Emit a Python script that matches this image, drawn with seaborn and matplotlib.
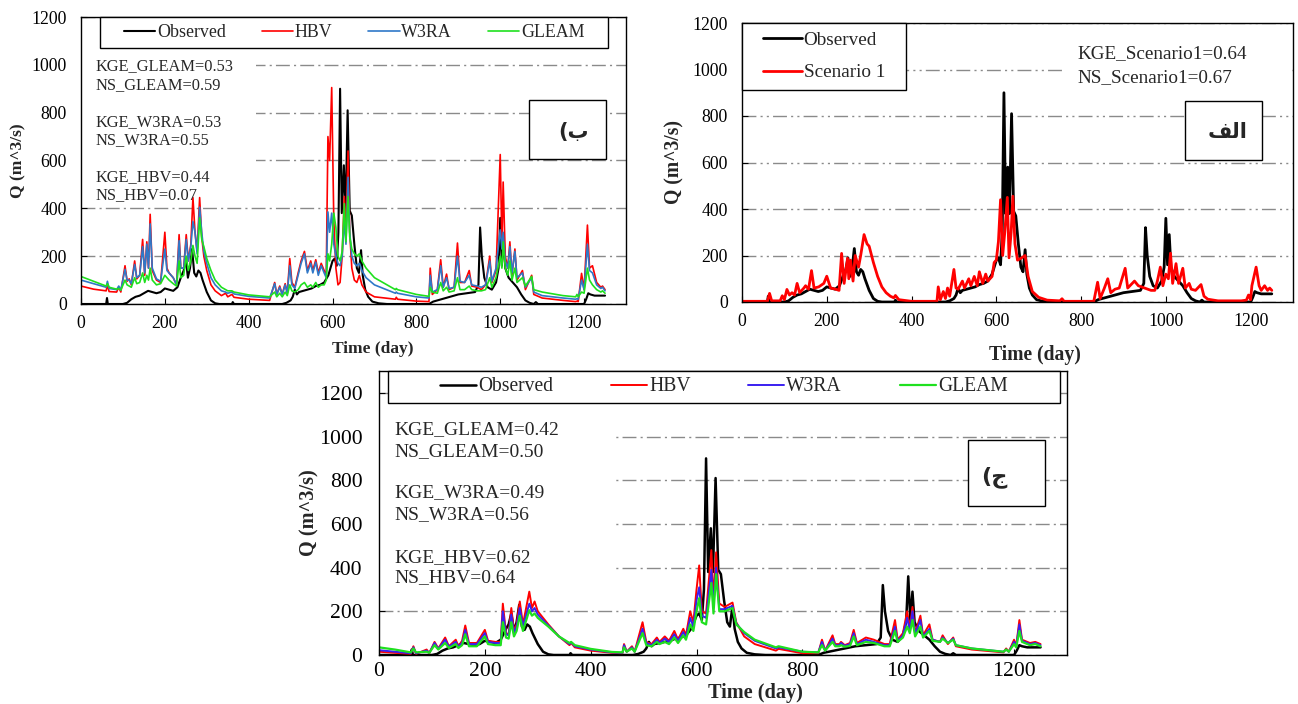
import matplotlib
matplotlib.use("Agg")
import matplotlib.pyplot as plt
from matplotlib.patches import Rectangle
import seaborn as sns

# ---------------- observed discharge (shared by all panels) ----------------
obs_day = [0, 60, 62, 64, 100, 110, 120, 130, 140, 150, 160, 170, 180, 190, 200,
           210, 220, 230, 240, 245, 250, 255, 260, 265, 270, 275, 280, 285, 290, 300,
           310, 320, 330, 360, 362, 365, 400, 480, 490, 500, 505, 510, 515, 520, 530,
           540, 550, 560, 570, 580, 590, 600, 605, 610, 614, 618, 622, 627, 631, 636,
           641, 646, 652, 658, 663, 668, 672, 678, 685, 695, 710, 730, 830, 840, 860,
           880, 900, 920, 940, 948, 952, 956, 962, 970, 980, 990, 996, 1000, 1004, 1008,
           1012, 1020, 1030, 1040, 1050, 1060, 1070, 1080, 1085, 1090, 1200, 1205, 1210, 1215, 1225,
           1250]
obs_q = [0, 0, 25, 0, 0, 5, 20, 30, 35, 45, 55, 50, 45, 50, 65,
         60, 55, 70, 120, 140, 190, 110, 150, 230, 130, 115, 140, 130, 100, 50,
         15, 3, 0, 0, 8, 0, 0, 0, 5, 15, 30, 60, 40, 50, 55,
         60, 65, 75, 80, 90, 120, 180, 190, 160, 300, 900, 380, 580, 380, 810,
         390, 370, 250, 150, 130, 225, 120, 60, 30, 10, 3, 0, 0, 10, 20,
         30, 40, 45, 50, 80, 320, 200, 110, 70, 60, 90, 150, 360, 160, 290,
         150, 110, 90, 70, 40, 15, 5, 0, 8, 0, 0, 20, 45, 40, 35,
         35]

# ---------------- panel (alef): Scenario 1 ----------------
s1_day = [0, 60, 65, 70, 90, 95, 100, 106, 112, 118, 124, 130, 136, 146, 150,
          157, 164, 170, 181, 193, 200, 209, 221, 229, 235, 241, 249, 252, 256, 262,
          267, 275, 280, 288, 295, 300, 310, 320, 330, 340, 350, 358, 362, 370, 400,
          460, 463, 468, 475, 480, 485, 490, 500, 505, 510, 520, 525, 535, 540, 548,
          555, 560, 568, 575, 580, 590, 595, 600, 605, 610, 615, 620, 626, 630, 635,
          639, 644, 650, 660, 668, 675, 685, 700, 720, 750, 755, 760, 830, 839, 845,
          855, 863, 870, 880, 890, 904, 910, 926, 935, 950, 965, 974, 980, 987, 993,
          1000, 1006, 1011, 1016, 1024, 1030, 1040, 1046, 1055, 1060, 1070, 1083, 1090, 1099, 1123,
          1178, 1190, 1195, 1200, 1203, 1213, 1220, 1225, 1233, 1240, 1245, 1250]
s1_q = [3, 3, 37, 5, 5, 27, 10, 54, 30, 40, 30, 80, 40, 60, 70,
        55, 135, 60, 65, 80, 111, 60, 55, 50, 209, 80, 188, 100, 180, 90,
        200, 150, 200, 290, 250, 240, 170, 110, 65, 40, 25, 18, 28, 10, 3,
        3, 65, 10, 45, 15, 60, 25, 140, 60, 55, 90, 60, 100, 70, 110,
        70, 130, 80, 120, 90, 110, 170, 180, 260, 440, 200, 300, 450, 190, 300,
        455, 250, 180, 190, 200, 110, 45, 20, 8, 5, 14, 3, 3, 85, 15,
        60, 100, 40, 55, 60, 145, 60, 90, 70, 60, 50, 50, 90, 150, 70,
        120, 100, 210, 80, 165, 80, 145, 60, 80, 55, 50, 75, 25, 12, 5,
        5, 8, 30, 10, 70, 150, 70, 50, 70, 50, 60, 50]

# ---------------- panel (be): HBV / W3RA / GLEAM ----------------
b_day = [0, 30, 60, 63, 67, 85, 90, 95, 105, 110, 115, 120, 128, 133, 140,
         147, 152, 157, 161, 165, 170, 180, 190, 200, 205, 210, 220, 228, 234, 238,
         245, 251, 256, 262, 267, 272, 277, 283, 288, 293, 300, 310, 320, 335, 345,
         350, 360, 365, 400, 450, 462, 467, 474, 480, 487, 492, 498, 503, 510, 518,
         525, 533, 540, 548, 553, 560, 566, 573, 580, 585, 589, 593, 598, 603, 608,
         613, 618, 623, 628, 632, 637, 641, 646, 652, 658, 664, 670, 680, 700, 750,
         752, 755, 800, 830, 833, 838, 850, 858, 864, 872, 878, 890, 898, 904, 915,
         926, 932, 945, 955, 965, 975, 980, 990, 1000, 1004, 1007, 1012, 1018, 1023, 1028,
         1035, 1040, 1053, 1060, 1075, 1080, 1100, 1150, 1180, 1183, 1186, 1194, 1200, 1208, 1213,
         1220, 1230, 1240, 1244, 1250]
b_hbv = [75, 62, 55, 80, 52, 50, 70, 50, 160, 95, 105, 80, 180, 105, 120,
         270, 120, 260, 150, 375, 140, 100, 90, 300, 150, 130, 110, 80, 290, 150,
         150, 290, 180, 250, 445, 300, 220, 445, 280, 200, 140, 80, 55, 35, 45,
         30, 40, 28, 20, 15, 90, 40, 75, 40, 85, 45, 190, 90, 70, 130,
         180, 220, 140, 180, 140, 185, 130, 170, 140, 120, 700, 600, 905, 350, 150,
         80, 90, 200, 450, 300, 640, 300, 150, 100, 90, 120, 80, 50, 30, 20,
         28, 20, 12, 10, 150, 40, 60, 185, 70, 125, 60, 70, 255, 90, 90,
         140, 75, 70, 60, 80, 200, 90, 140, 625, 250, 510, 200, 150, 260, 120,
         230, 100, 140, 60, 120, 40, 25, 15, 10, 12, 10, 128, 60, 330, 150,
         160, 90, 70, 75, 60]
b_w3ra = [100, 85, 70, 95, 65, 60, 75, 58, 145, 100, 100, 85, 165, 110, 120,
          240, 130, 250, 150, 335, 150, 105, 95, 230, 140, 130, 110, 80, 265, 150,
          150, 270, 180, 240, 345, 300, 210, 405, 300, 220, 170, 110, 80, 55, 50,
          45, 50, 42, 32, 25, 85, 40, 70, 40, 80, 45, 160, 80, 65, 120,
          170, 210, 130, 170, 130, 175, 120, 160, 130, 110, 385, 300, 380, 250, 200,
          170, 160, 200, 350, 250, 530, 300, 200, 170, 160, 170, 140, 110, 80, 45,
          50, 45, 30, 25, 120, 50, 60, 160, 70, 110, 65, 70, 200, 95, 90,
          120, 80, 75, 70, 80, 180, 95, 150, 310, 230, 300, 180, 150, 240, 130,
          220, 110, 130, 70, 110, 50, 35, 25, 20, 22, 20, 100, 60, 250, 140,
          130, 80, 65, 70, 55]
b_gleam = [115, 95, 75, 85, 70, 62, 65, 58, 100, 80, 75, 70, 110, 85, 90,
           130, 90, 120, 100, 150, 100, 80, 85, 120, 110, 100, 85, 75, 180, 110,
           120, 200, 140, 180, 245, 200, 170, 360, 270, 240, 190, 140, 100, 70, 60,
           55, 55, 50, 38, 30, 50, 30, 45, 30, 50, 35, 80, 55, 50, 60,
           80, 90, 70, 80, 70, 90, 70, 80, 80, 100, 210, 180, 250, 380, 320,
           200, 180, 220, 420, 260, 450, 280, 230, 210, 200, 210, 180, 150, 110, 60,
           65, 60, 40, 32, 70, 50, 45, 90, 55, 70, 50, 55, 110, 60, 60,
           75, 60, 55, 55, 60, 110, 70, 110, 200, 150, 260, 150, 120, 180, 100,
           150, 90, 110, 75, 115, 60, 50, 35, 30, 40, 30, 50, 45, 150, 100,
           80, 60, 50, 55, 45]

# ---------------- panel (jim): HBV / W3RA / GLEAM ----------------
c_day = [0, 30, 60, 65, 70, 90, 95, 105, 112, 125, 132, 145, 150, 157, 163,
         170, 185, 200, 206, 220, 230, 234, 240, 245, 250, 255, 260, 266, 272, 284,
         289, 294, 300, 320, 340, 360, 363, 370, 400, 440, 460, 463, 468, 478, 483,
         498, 505, 515, 525, 530, 540, 548, 558, 565, 575, 580, 588, 594, 600, 605,
         610, 618, 628, 632, 637, 643, 653, 668, 675, 690, 710, 750, 755, 800, 830,
         837, 843, 857, 862, 870, 873, 880, 890, 897, 903, 920, 935, 955, 965, 975,
         980, 990, 998, 1003, 1008, 1013, 1023, 1028, 1040, 1046, 1060, 1065, 1075, 1085, 1090,
         1120, 1180, 1185, 1190, 1200, 1204, 1210, 1215, 1230, 1240, 1250]
c_hbv = [15, 10, 5, 40, 5, 25, 8, 60, 30, 80, 40, 70, 40, 65, 135,
         55, 55, 115, 65, 60, 60, 235, 100, 95, 215, 110, 140, 245, 140, 290,
         215, 245, 200, 140, 85, 45, 55, 35, 20, 10, 8, 50, 15, 40, 15,
         150, 60, 50, 80, 60, 85, 65, 110, 70, 120, 90, 200, 150, 300, 410,
         200, 190, 480, 250, 470, 236, 220, 240, 150, 85, 50, 20, 28, 8, 8,
         70, 20, 90, 50, 50, 60, 45, 55, 115, 55, 80, 70, 50, 50, 160,
         70, 100, 200, 120, 220, 100, 180, 90, 140, 70, 60, 90, 50, 80, 40,
         25, 12, 30, 15, 70, 40, 160, 70, 55, 60, 50]
c_w3ra = [22, 15, 8, 35, 8, 20, 10, 55, 28, 70, 38, 60, 38, 55, 115,
          50, 50, 100, 60, 55, 55, 200, 95, 90, 185, 100, 130, 215, 130, 235,
          200, 215, 185, 135, 85, 50, 58, 40, 25, 12, 10, 45, 15, 35, 15,
          120, 55, 45, 70, 55, 75, 60, 95, 65, 105, 80, 170, 130, 250, 310,
          180, 170, 390, 220, 400, 210, 210, 225, 145, 100, 65, 30, 35, 15, 12,
          60, 20, 75, 45, 45, 55, 42, 50, 100, 50, 70, 60, 45, 45, 130,
          65, 90, 170, 110, 200, 95, 160, 85, 120, 70, 60, 80, 55, 75, 45,
          30, 15, 25, 15, 60, 40, 140, 65, 50, 55, 45]
c_gleam = [35, 25, 12, 30, 12, 15, 10, 45, 25, 55, 32, 50, 32, 45, 95,
           40, 40, 85, 50, 45, 45, 150, 80, 75, 150, 85, 110, 180, 110, 205,
           180, 190, 170, 130, 85, 55, 60, 45, 28, 14, 12, 35, 15, 30, 15,
           100, 45, 40, 60, 50, 60, 50, 80, 55, 90, 70, 140, 110, 200, 260,
           150, 140, 330, 190, 370, 200, 200, 215, 140, 105, 70, 35, 40, 15, 12,
           45, 20, 60, 40, 40, 45, 38, 42, 85, 45, 60, 55, 40, 40, 110,
           60, 80, 130, 100, 160, 85, 130, 80, 110, 65, 60, 75, 55, 70, 45,
           30, 15, 25, 15, 50, 35, 110, 60, 45, 50, 40]

x_ticks = [0, 200, 400, 600, 800, 1000, 1200]
y_ticks = [0, 200, 400, 600, 800, 1000, 1200]

# ---------------- styling ----------------
sns.set_style("white")
plt.rcParams["font.family"] = ["Liberation Serif", "DejaVu Sans"]
plt.rcParams["axes.edgecolor"] = "black"
plt.rcParams["axes.linewidth"] = 1.0

W, H = 1298, 704
fig = plt.figure(figsize=(W / 100, H / 100), dpi=100)


def add_axes_px(left, top, right, bottom):
    return fig.add_axes([left / W, (H - bottom) / H, (right - left) / W, (bottom - top) / H])


def style_axes(ax, ymax, tick_fs, lab_fs, grid_dash, ylab_x, xlab_xy, ypad=10, xpad=7):
    ax.set_xlim(0, 1300)
    ax.set_ylim(0, ymax)
    ax.set_xticks(x_ticks)
    ax.set_yticks(y_ticks)
    ax.tick_params(axis="both", direction="in", length=4, width=0.8, labelsize=tick_fs,
                   bottom=True, left=True, colors="black")
    ax.tick_params(axis="y", pad=ypad)
    ax.tick_params(axis="x", pad=xpad)
    for s in ax.spines.values():
        s.set_visible(True)
        s.set_color("black")
        s.set_linewidth(1.0)
    ax.set_axisbelow(True)
    ax.yaxis.grid(True, color="#8a8a8a", linewidth=1.0, linestyle=(0, grid_dash))
    ax.xaxis.grid(False)
    ax.set_ylabel("Q (m^3/s)", fontsize=lab_fs, fontweight="bold")
    ax.set_xlabel("Time (day)", fontsize=lab_fs, fontweight="bold")
    ax.yaxis.set_label_coords(ylab_x, 0.5)
    ax.xaxis.set_label_coords(*xlab_xy)


def white_cover(ax, x0, y0, w, h):
    ax.add_patch(Rectangle((x0, y0), w, h, transform=ax.transAxes, facecolor="white",
                           edgecolor="none", zorder=1))


def framed_box(ax, x0, y0, w, h):
    ax.add_patch(Rectangle((x0, y0), w, h, transform=ax.transAxes, facecolor="white",
                           edgecolor="black", linewidth=1.0, zorder=4, clip_on=False))


def framed_legend(ax, center, fs, ncol, handlelength, colspacing, labelspacing=0.5):
    leg = ax.legend(loc="center", bbox_to_anchor=center, bbox_transform=ax.transAxes,
                    ncol=ncol, frameon=False, fontsize=fs, handlelength=handlelength,
                    handletextpad=0.1, columnspacing=colspacing, labelspacing=labelspacing,
                    borderpad=0.0, borderaxespad=0.0)
    leg.set_zorder(5)
    return leg


arabic_font = dict(family=["DejaVu Sans"], fontweight="bold")

# ================= panel (be): top left =================
ax_b = add_axes_px(81, 17, 626, 304)
sns.lineplot(x=obs_day, y=obs_q, ax=ax_b, color="black", linewidth=1.5, label="Observed",
             estimator=None, sort=False)
sns.lineplot(x=b_day, y=b_hbv, ax=ax_b, color="#ff0000", linewidth=1.2, label="HBV",
             estimator=None, sort=False)
sns.lineplot(x=b_day, y=b_w3ra, ax=ax_b, color="#2f78c8", linewidth=1.2, label="W3RA",
             estimator=None, sort=False)
sns.lineplot(x=b_day, y=b_gleam, ax=ax_b, color="#1fe01f", linewidth=1.2, label="GLEAM",
             estimator=None, sort=False)
style_axes(ax_b, 1200, 12.8, 12.5, (10, 3, 1.5, 3), -0.10, (0.536, -0.128), xpad=8)
framed_box(ax_b, 0.0349, 0.892, 0.932, 0.108)
framed_legend(ax_b, (0.501, 0.946), 12.9, 4, 1.75, 2.0)
white_cover(ax_b, 0.0, 0.352, 0.321, 0.533)
b_stats = ["KGE_GLEAM=0.53", "NS_GLEAM=0.59", "KGE_W3RA=0.53", "NS_W3RA=0.55",
           "KGE_HBV=0.44", "NS_HBV=0.07"]
for txt, yy in zip(b_stats, [0.829, 0.763, 0.634, 0.571, 0.443, 0.380]):
    ax_b.text(0.0275, yy, txt, transform=ax_b.transAxes, fontsize=11.8, va="center",
              ha="left", zorder=3)
framed_box(ax_b, 0.822, 0.505, 0.141, 0.206)
ax_b.text(0.903, 0.599, "(\u0628", transform=ax_b.transAxes, fontsize=15, ha="center",
          va="center", zorder=6, **arabic_font)

# ================= panel (alef): top right =================
ax_a = add_axes_px(742, 23, 1293, 302)
sns.lineplot(x=obs_day, y=obs_q, ax=ax_a, color="black", linewidth=2.0, label="Observed",
             estimator=None, sort=False)
sns.lineplot(x=s1_day, y=s1_q, ax=ax_a, color="#ff0000", linewidth=2.0, label="Scenario 1",
             estimator=None, sort=False)
style_axes(ax_a, 1200, 12.8, 14.1, (10, 3, 1.5, 3, 1.5, 3), -0.105, (0.532, -0.155), xpad=8)
framed_box(ax_a, 0.0, 0.760, 0.298, 0.240)
framed_legend(ax_a, (0.149, 0.881), 13.8, 1, 2.0, 1.0, labelspacing=0.8)
white_cover(ax_a, 0.583, 0.767, 0.412, 0.19)
ax_a.text(0.608, 0.892, "KGE_Scenario1=0.64", transform=ax_a.transAxes, fontsize=13.75,
          va="center", ha="left", zorder=3)
ax_a.text(0.608, 0.806, "NS_Scenario1=0.67", transform=ax_a.transAxes, fontsize=13.75,
          va="center", ha="left", zorder=3)
framed_box(ax_a, 0.804, 0.509, 0.140, 0.211)
ax_a.text(0.882, 0.609, "\ufed2\ufedf\ufe8d", transform=ax_a.transAxes, fontsize=15,
          ha="center", va="center", zorder=6, **arabic_font)

# ================= panel (jim): bottom =================
ax_c = add_axes_px(379, 371, 1067, 655)
sns.lineplot(x=obs_day, y=obs_q, ax=ax_c, color="black", linewidth=1.8, label="Observed",
             estimator=None, sort=False)
sns.lineplot(x=c_day, y=c_hbv, ax=ax_c, color="#ff0000", linewidth=1.4, label="HBV",
             estimator=None, sort=False)
sns.lineplot(x=c_day, y=c_w3ra, ax=ax_c, color="#3a1ff0", linewidth=1.4, label="W3RA",
             estimator=None, sort=False)
sns.lineplot(x=c_day, y=c_gleam, ax=ax_c, color="#1fe01f", linewidth=1.6, label="GLEAM",
             estimator=None, sort=False)
style_axes(ax_c, 1300, 15.6, 14.6, (10, 3, 1.5, 3), -0.087, (0.547, -0.100), ypad=12, xpad=5)
framed_box(ax_c, 0.0131, 0.887, 0.977, 0.113)
framed_legend(ax_c, (0.501, 0.944), 14.1, 4, 1.85, 2.95)
white_cover(ax_c, 0.0, 0.204, 0.343, 0.676)
c_stats = ["KGE_GLEAM=0.42", "NS_GLEAM=0.50", "KGE_W3RA=0.49", "NS_W3RA=0.56",
           "KGE_HBV=0.62", "NS_HBV=0.64"]
for txt, yy in zip(c_stats, [0.792, 0.715, 0.570, 0.493, 0.342, 0.271]):
    ax_c.text(0.023, yy, txt, transform=ax_c.transAxes, fontsize=14.0, va="center",
              ha="left", zorder=3)
framed_box(ax_c, 0.856, 0.525, 0.112, 0.232)
ax_c.text(0.895, 0.627, "(\u062c", transform=ax_c.transAxes, fontsize=16, ha="center",
          va="center", zorder=6, **arabic_font)

fig.savefig("out.png", dpi=100)
